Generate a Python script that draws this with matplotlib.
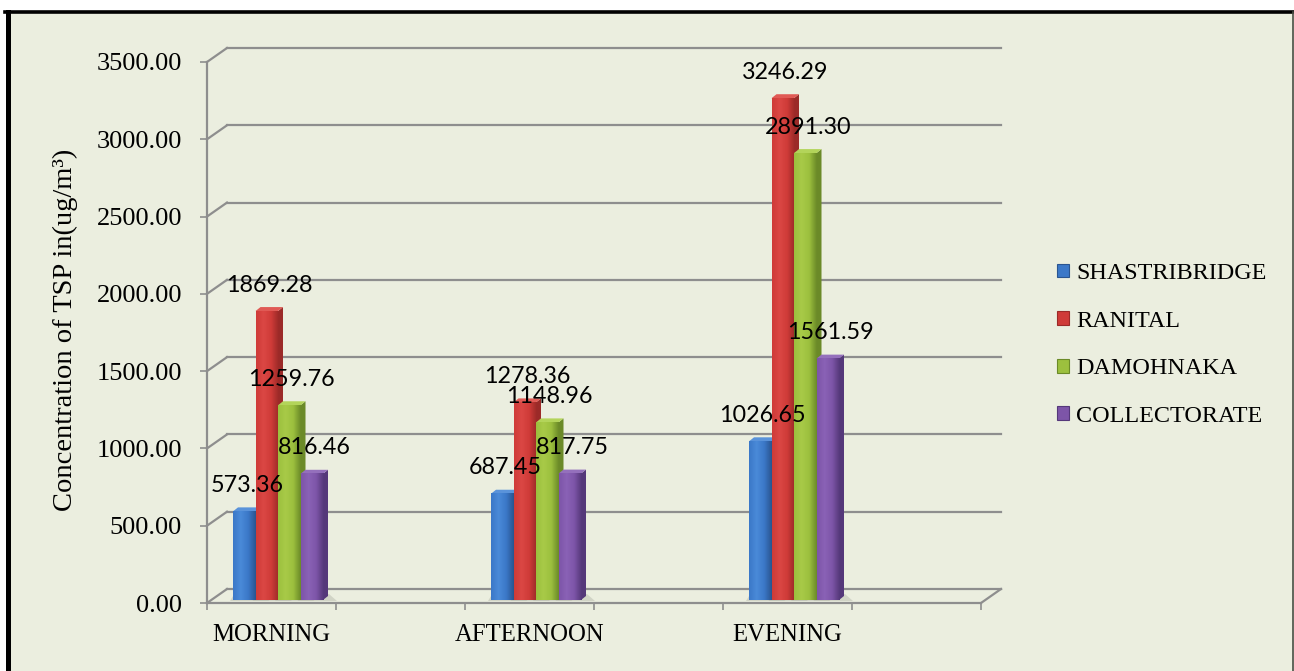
import numpy as np
import matplotlib.pyplot as plt
from matplotlib.patches import Rectangle, Polygon, Patch
from matplotlib.lines import Line2D
from matplotlib.colors import LinearSegmentedColormap

categories = ['MORNING', 'AFTERNOON', 'EVENING']
cat_pos = [0, 2, 4]
sites = ['SHASTRIBRIDGE', 'RANITAL', 'DAMOHNAKA', 'COLLECTORATE']
morning = [573.36, 1869.28, 1259.76, 816.46]
afternoon = [687.45, 1278.36, 1148.96, 817.75]
evening = [1026.65, 3246.29, 2891.30, 1561.59]
yticks = np.arange(0, 3501, 500)

front = ['#3B78C8', '#CF3B38', '#9CC03E', '#7D55A8']
light = ['#4A8AD8', '#DB4744', '#A8CA48', '#8A62B6']
side = ['#2A5590', '#9B2A28', '#6B8A28', '#55387A']
top = ['#5A93DA', '#E05A55', '#B3D45A', '#9470BC']
grid = '#8E8E8E'
bg = '#EBEEDF'

W, H = 1294, 671
fig = plt.figure(figsize=(W / 100, H / 100), dpi=100)
fig.patch.set_facecolor('white')

# chart area + frame
fig.add_artist(Rectangle((7 / W, 0), 1, 1 - 11 / H, transform=fig.transFigure,
                         facecolor=bg, edgecolor='none', zorder=0))
fig.add_artist(Line2D([7.5 / W, 7.5 / W], [0, 1 - 11.5 / H], color='black', lw=3.6,
                      transform=fig.transFigure))
fig.add_artist(Line2D([5 / W, 1], [1 - 11.5 / H] * 2, color='black', lw=2.6,
                      transform=fig.transFigure))
fig.add_artist(Line2D([1292.5 / W] * 2, [0, 1 - 11.5 / H], color='#4A4F45', lw=1.2,
                      transform=fig.transFigure))

L, R, B, T = 207, 981, 603, 62
ax = fig.add_axes([L / W, 1 - B / H, (R - L) / W, (B - T) / H])
ax.patch.set_alpha(0)
for s in ax.spines.values():
    s.set_visible(False)

ux = (R - L) / 6.0
uy = (B - T) / 3500.0
def dx(p): return p / ux
def dy(p): return p / uy

# back wall and floor
wx, wy = dx(20), dy(14)
for v in yticks:
    ax.plot([-0.5 + wx, 5.5 + wx], [v + wy] * 2, color=grid, lw=1.6, clip_on=False, zorder=1)
    ax.plot([-0.5, -0.5 + wx], [v, v + wy], color=grid, lw=1.6, clip_on=False, zorder=1)
ax.plot([-0.5, 5.5], [0, 0], color=grid, lw=1.6, clip_on=False, zorder=1)
ax.plot([5.5, 5.5 + wx], [0, wy], color=grid, lw=1.6, clip_on=False, zorder=1)
ax.plot([-0.5, -0.5], [0, 3500], color=grid, lw=1.6, clip_on=False, zorder=1)

# bars
bw = dx(22.5)
base = dy(3)
ex, ey = dx(5), dy(4)
for pos, vals in zip(cat_pos, [morning, afternoon, evening]):
    for i, v in enumerate(vals):
        xc = pos + dx(6.5) + (i - 1.5) * bw
        z = 3 + i * 0.1
        xr = xc + bw / 2
        xl = xc - bw / 2
        # soft floor shadow
        ax.add_patch(Polygon([(xl - dx(3), base - dy(1)), (xr + dx(14), base - dy(1)),
                              (xr + dx(6), base + dy(6)), (xl, base + dy(4))],
                             closed=True, facecolor='#B9BBAE', edgecolor='none', alpha=0.5, zorder=2))
        ax.add_patch(Polygon([(xr, base), (xr + ex, base + ey), (xr + ex, base + v + ey), (xr, base + v)],
                             closed=True, facecolor=side[i], edgecolor='none', zorder=z))
        ax.add_patch(Polygon([(xl, base + v), (xr, base + v), (xr + ex, base + v + ey), (xl + ex, base + v + ey)],
                             closed=True, facecolor=top[i], edgecolor='none', zorder=z))
        cmap = LinearSegmentedColormap.from_list('g%d' % i, [front[i], light[i], front[i], side[i]])
        ax.imshow(np.linspace(0, 1, 64).reshape(1, -1), cmap=cmap, aspect='auto',
                  extent=(xl, xr, base, base + v), zorder=z + 0.01, interpolation='bilinear')
        ax.annotate('%.2f' % v, (xc + ex / 2, base + v + ey), xytext=(0, 22),
                    textcoords='offset pixels', ha='center', va='center',
                    family='Lato', fontsize=16.8, zorder=10)

ax.set_xlim(-0.5, 5.5)
ax.set_ylim(0, 3500)
ax.set_yticks(yticks)
ax.set_yticklabels(['%.2f' % v for v in yticks], family='Liberation Serif', fontsize=19)
ax.tick_params(axis='y', length=5, width=1.2, color=grid, pad=13)
ax.set_xticks(cat_pos)
ax.set_xticklabels(categories, family='Liberation Serif', fontsize=17.8)
ax.set_xticks(np.arange(-0.5, 5.6, 1), minor=True)
ax.tick_params(axis='x', which='major', length=0, pad=15)
ax.tick_params(axis='x', which='minor', length=5, width=1.2, color=grid, direction='out')

handles = [Patch(facecolor=front[i], edgecolor=side[i], linewidth=0.8) for i in range(4)]
fig.legend(handles, sites, loc='center left', bbox_to_anchor=(1057 / W, 1 - 345 / H),
           frameon=False, prop={'family': 'Liberation Serif', 'size': 17.4},
           handlelength=0.5, handleheight=0.5, handletextpad=0.3, labelspacing=1.1,
           borderaxespad=0, borderpad=0)

fig.text(65 / W, 1 - 330 / H, 'Concentration of TSP in(ug/m³)', rotation=90,
         ha='center', va='center', family='Liberation Serif', fontsize=20.5)

fig.savefig('out.png', dpi=100, facecolor=fig.get_facecolor())
